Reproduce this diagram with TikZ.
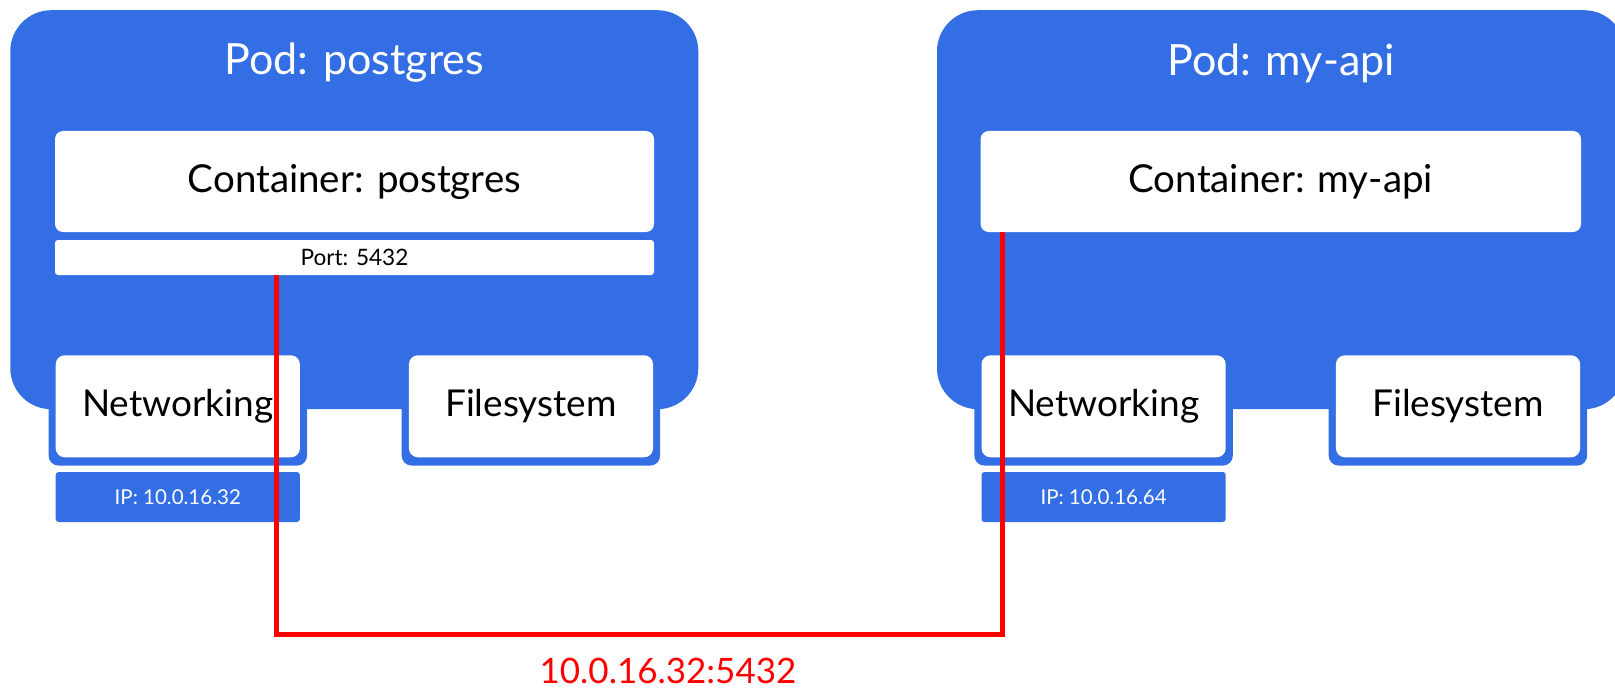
\documentclass[tikz,border=0pt]{standalone}
\usepackage{fontspec}
\setmainfont{Lato}
\definecolor{podblue}{RGB}{52,110,229}
\definecolor{wirered}{RGB}{255,0,0}

\begin{document}
\begin{tikzpicture}[x=1pt,y=-1pt,
  pod/.style={fill=podblue, rounded corners=41pt, inner sep=0pt, outer sep=0pt},
  podtitle/.style={text=white, font=\fontsize{43}{45}\selectfont},
  card/.style={fill=white, rounded corners=#1, inner sep=0pt, outer sep=0pt},
  shell/.style={fill=podblue, rounded corners=10pt, inner sep=0pt, outer sep=0pt,
    minimum width=258.5pt, minimum height=105.6pt},
  part/.style={card=9pt, minimum width=244.2pt, minimum height=102pt,
    font=\fontsize{37}{39}\selectfont},
  ipbox/.style={fill=podblue, rounded corners=3pt, inner sep=0pt, minimum width=244.2pt,
    minimum height=50pt, text=white, font=\fontsize{20.5}{22}\selectfont},
  wire/.style={draw=wirered, line width=5pt}]

\clip (0,0) rectangle (1615,690);

% pod postgres
\node[pod, minimum width=688pt, minimum height=399pt] (podP) at (354.3,209.7) {};
\node[podtitle] (podPt) at (354.3,63) {Pod: postgres};
\node[card=8pt, minimum width=599pt, minimum height=101pt, font=\fontsize{38.5}{40}\selectfont] (ctrP) at (354.5,181.5) {Container: postgres};
\node[card=3pt, minimum width=599pt, minimum height=35pt, font=\fontsize{22.6}{24}\selectfont] (portP) at (354.5,257.5) {Port: 5432};
\node[shell] (netPs) at (177.8,412.8) {};
\node[part] (netP) at (177.8,406.3) {Networking};
\node[shell] (fsPs) at (530.9,412.8) {};
\node[part] (fsP) at (531,406.3) {Filesystem};
\node[ipbox] (ipP) at (177.8,497) {IP: 10.0.16.32};

% pod my-api
\node[pod, minimum width=688pt, minimum height=399pt] (podA) at (1281,209.7) {};
\node[podtitle] (podAt) at (1281,63) {Pod: my-api};
\node[card=8pt, minimum width=600.4pt, minimum height=101pt, font=\fontsize{38.5}{40}\selectfont] (ctrA) at (1280.8,181.5) {Container: my-api};
\node[shell] (netAs) at (1103.6,412.8) {};
\node[part] (netA) at (1103.6,406.3) {Networking};
\node[shell] (fsAs) at (1457.9,412.8) {};
\node[part] (fsA) at (1458,406.3) {Filesystem};
\node[ipbox] (ipA) at (1103.6,497) {IP: 10.0.16.64};

% connection
\coordinate (tapP) at (276,275);
\coordinate (tapA) at (1002,232);
\coordinate (low) at (0,634.5);
\draw[wire] (tapP) -- (tapP |- low) -| (tapA);
\node[text=wirered, font=\fontsize{35}{37}\selectfont] (addr) at (668,671) {10.0.16.32:5432};
\end{tikzpicture}
\end{document}
